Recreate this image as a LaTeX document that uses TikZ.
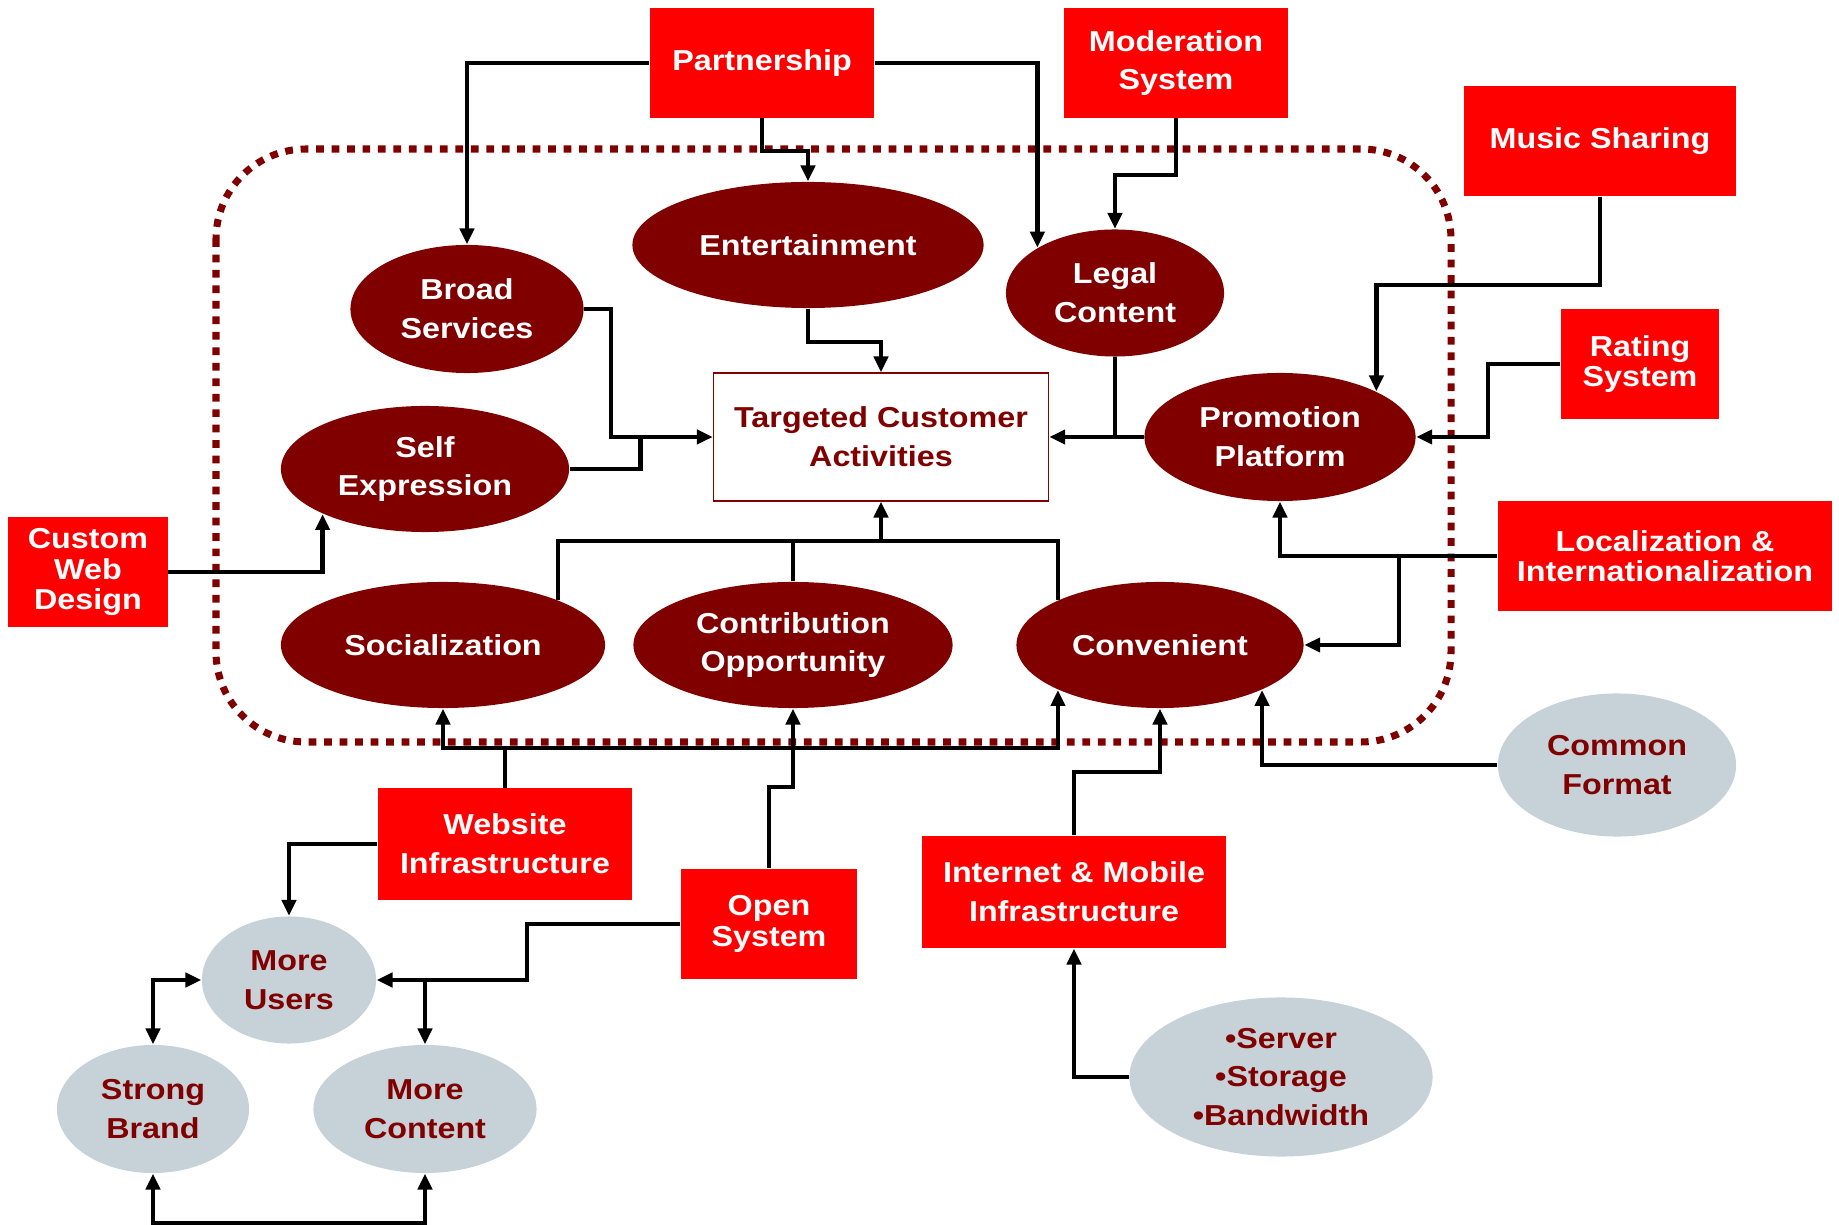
\documentclass[tikz,border=0pt]{standalone}
\usepackage{fontspec}
\setmainfont[FakeStretch=1.12]{Liberation Sans}
\usetikzlibrary{shapes.geometric,arrows.meta}
\definecolor{boxred}{RGB}{255,0,0}
\definecolor{maroon}{RGB}{128,0,0}
\definecolor{ovalgrey}{RGB}{198,209,216}
\begin{document}
\begin{tikzpicture}[x=0.01cm,y=-0.01cm,
     >={Triangle[length=4.5pt,width=4pt]},
     txt/.style={font=\bfseries\fontsize{8.2}{11}\selectfont, align=center, inner sep=0pt},
     tight/.style={font=\bfseries\fontsize{8.2}{8.7}\selectfont},
     sz/.style 2 args={minimum width=#1cm, minimum height=#2cm},
     redbox/.style={txt, rectangle, fill=boxred, text=white},
     darkoval/.style={txt, ellipse, fill=maroon, text=white},
     greyoval/.style={txt, ellipse, fill=ovalgrey, text=maroon},
     line/.style={line width=1.25pt},
     arr/.style={line, ->},
     both/.style={line, <->}]
     \useasboundingbox (0,0) rectangle (1839,1225);
     \draw[maroon, line width=2pt, dash pattern=on 2.2pt off 2.2pt, rounded corners=0.9cm] (216,149) rectangle (1451,742);
     \draw (762,63) node[redbox, sz={2.24}{1.09}] (part) {Partnership};
     \draw (1176,63) node[redbox, sz={2.23}{1.09}] (moder) {Moderation\\System};
     \draw (1600,141) node[redbox, sz={2.71}{1.10}] (music) {Music Sharing};
     \draw (1640,364) node[redbox, tight, sz={1.58}{1.09}] (rating) {Rating\\System};
     \draw (1665,556) node[redbox, tight, sz={3.34}{1.09}] (local) {Localization \&\\Internationalization};
     \draw (88,572) node[redbox, tight, sz={1.59}{1.10}] (custom) {Custom\\Web\\Design};
     \draw (505,844) node[redbox, sz={2.54}{1.11}] (web) {Website\\Infrastructure};
     \draw (769,924) node[redbox, tight, sz={1.76}{1.10}] (open) {Open\\System};
     \draw (1074,892) node[redbox, sz={3.04}{1.12}] (inet) {Internet \& Mobile\\Infrastructure};
     \draw (881,437) node[txt, rectangle, draw=maroon, fill=white, text=maroon, sz={3.35}{1.28}] (target) {Targeted Customer\\Activities};
     \draw (808,245) node[darkoval, sz={3.51}{1.26}] (ent) {Entertainment};
     \draw (467,309) node[darkoval, sz={2.33}{1.28}] (broad) {Broad\\Services};
     \draw (1115,293) node[darkoval, sz={2.18}{1.27}] (legal) {Legal\\Content};
     \draw (425,469) node[darkoval, sz={2.88}{1.26}] (self) {Self\\Expression};
     \draw (1280,437) node[darkoval, sz={2.71}{1.28}] (promo) {Promotion\\Platform};
     \draw (443,645) node[darkoval, sz={3.24}{1.26}] (social) {Socialization};
     \draw (793,645) node[darkoval, sz={3.19}{1.26}] (contrib) {Contribution\\Opportunity};
     \draw (1160,645) node[darkoval, sz={2.87}{1.26}] (conv) {Convenient};
     \draw (1617,765) node[greyoval, sz={2.38}{1.43}] (common) {Common\\Format};
     \draw (289,980) node[greyoval, sz={1.74}{1.27}] (users) {More\\Users};
     \draw (153,1109) node[greyoval, sz={1.92}{1.28}] (brand) {Strong\\Brand};
     \draw (425,1109) node[greyoval, sz={2.23}{1.28}] (content) {More\\Content};
     \draw (1281,1077) node[greyoval, sz={3.03}{1.59}] (servers) {•Server\\•Storage\\•Bandwidth};
     \coordinate (tbus) at (881,541);
     \coordinate (wbus) at (505,748);
     \draw[arr] (part.west) -| (broad.north);
     \draw[arr] (part.east) -| (legal.north west);
     \draw[arr] (part.south) -- ++(0,33) -| (ent.north);
     \draw[arr] (moder.south) -- ++(0,57) -| (legal.north);
     \draw[arr] (music.south) -- ++(0,88) -| (promo.north east);
     \draw[arr] (rating.west) -- ++(-72,0) |- (promo.east);
     \draw[arr] (promo.west) -- (target.east);
     \draw[line] (legal.south) -- (legal.south |- target.east);
     \draw[arr] (ent.south) -- ++(0,33) -| (target.north);
     \draw[arr] (broad.east) -- ++(27,0) |- (target.west);
     \draw[line] (self.east) -| ([xshift=-0.72cm]target.west);
     \draw[arr] (custom.east) -| (self.south west);
     \draw[line] (social.north east) |- (tbus) -| (conv.north west);
     \draw[line] (contrib.north) -- (contrib.north |- tbus);
     \draw[arr] (tbus) -- (target.south);
     \draw[line] (web.north) -- (wbus);
     \draw[arr] (wbus) -| (social.south);
     \draw[arr] (wbus) -| (conv.south west);
     \draw[arr] (open.north) -- ++(0,-81) -| (contrib.south);
     \draw[arr] (inet.north) -- ++(0,-63) -| (conv.south);
     \draw[arr] (common.west) -| (conv.south east);
     \draw[arr] (local.west) -| (promo.south);
     \draw[arr] ([xshift=-0.98cm]local.west) |- (conv.east);
     \draw[arr] (servers.west) -| (inet.south);
     \draw[arr] (web.west) -| (users.north);
     \draw[arr] (open.west) -- ++(-153,0) |- (users.east);
     \draw[arr] (users.east -| content.north) -- (content.north);
     \draw[both] (brand.north) |- (users.west);
     \draw[both] (brand.south) -- ++(0,49) -| (content.south);
\end{tikzpicture}
\end{document}
